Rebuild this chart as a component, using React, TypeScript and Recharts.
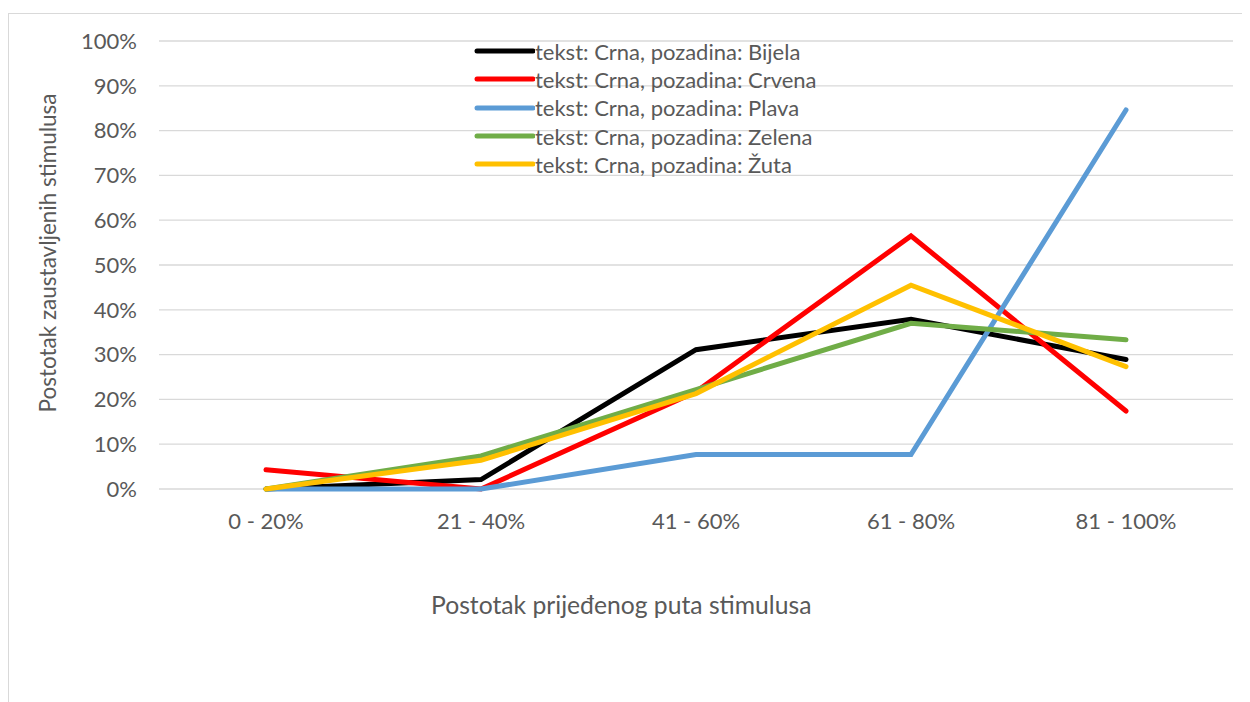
import { LineChart, Line, XAxis, YAxis, CartesianGrid } from "recharts";

const categories = ["0 - 20%", "21 - 40%", "41 - 60%", "61 - 80%", "81 - 100%"];
const bijela = [0, 2.1, 31.1, 37.9, 28.9];
const crvena = [4.3, 0, 21.7, 56.5, 17.4];
const plava = [0, 0, 7.7, 7.7, 84.6];
const zelena = [0, 7.4, 22.2, 37.0, 33.3];
const zuta = [0, 6.4, 21.3, 45.5, 27.3];
const yTicks = [0, 10, 20, 30, 40, 50, 60, 70, 80, 90, 100];

const series = [
  { key: "bijela", name: "tekst: Crna, pozadina: Bijela", color: "#000000", values: bijela },
  { key: "crvena", name: "tekst: Crna, pozadina: Crvena", color: "#FF0000", values: crvena },
  { key: "plava", name: "tekst: Crna, pozadina: Plava", color: "#5B9BD5", values: plava },
  { key: "zelena", name: "tekst: Crna, pozadina: Zelena", color: "#70AD47", values: zelena },
  { key: "zuta", name: "tekst: Crna, pozadina: Žuta", color: "#FFC000", values: zuta },
];

const data = categories.map((cat, i) => {
  const row: Record<string, string | number> = { cat };
  series.forEach((s) => (row[s.key] = s.values[i]));
  return row;
});

const FONT = "Lato, 'Open Sans', sans-serif";
const GRAY = "#595959";

// legend drawn as a plain overlay so it doesn't eat into the plot area
function LegendBox() {
  return (
    <div
      style={{
        position: "absolute",
        left: 464,
        top: 23,
        fontSize: 22,
        color: GRAY,
      }}
    >
      {series.map((s) => (
        <div key={s.key} style={{ display: "flex", alignItems: "center", height: 28.3 }}>
          <svg width={62} height={10}>
            <line x1={4} y1={5} x2={60} y2={5} stroke={s.color} strokeWidth={5} strokeLinecap="round" />
          </svg>
          <span style={{ whiteSpace: "nowrap" }}>{s.name}</span>
        </div>
      ))}
    </div>
  );
}

export default function App() {
  return (
    <div
      style={{
        position: "relative",
        marginTop: 5,
        width: 1260,
        height: 700,
        borderLeft: "1px solid #d9d9d9",
        borderTop: "1px solid #d9d9d9",
        fontFamily: FONT,
      }}
    >
      <LineChart
        width={1240}
        height={690}
        data={data}
        margin={{ top: 27, right: 16, left: 80, bottom: 185 }}
      >
        <CartesianGrid vertical={false} stroke="#d9d9d9" strokeWidth={1.3} />
        <XAxis
          dataKey="cat"
          axisLine={false}
          tickLine={false}
          tickSize={0}
          tickMargin={24}
          height={30}
          padding={{ left: 107, right: 107 }}
          tick={{ fill: GRAY, fontSize: 22, fontFamily: FONT }}
          interval={0}
        />
        <YAxis
          type="number"
          domain={[0, 100]}
          ticks={yTicks}
          tickFormatter={(v: number) => `${v}%`}
          axisLine={false}
          tickLine={false}
          tickSize={0}
          tickMargin={22}
          width={70}
          tick={{ fill: GRAY, fontSize: 22, fontFamily: FONT }}
        />
        {series.map((s) => (
          <Line
            key={s.key}
            type="linear"
            dataKey={s.key}
            name={s.name}
            stroke={s.color}
            strokeWidth={5}
            strokeLinecap="round"
            dot={false}
            activeDot={false}
            isAnimationActive={false}
          />
        ))}
      </LineChart>
      <LegendBox />
      <div
        style={{
          position: "absolute",
          left: 422,
          top: 576,
          fontSize: 24.7,
          color: GRAY,
          whiteSpace: "nowrap",
        }}
      >
        Postotak prijeđenog puta stimulusa
      </div>
      <div style={{ position: "absolute", left: 38, top: 239, width: 0, height: 0 }}>
        <div
          style={{
            position: "absolute",
            transform: "translate(-50%, -50%) rotate(-90deg)",
            fontSize: 22.5,
            color: GRAY,
            whiteSpace: "nowrap",
          }}
        >
          Postotak zaustavljenih stimulusa
        </div>
      </div>
    </div>
  );
}
